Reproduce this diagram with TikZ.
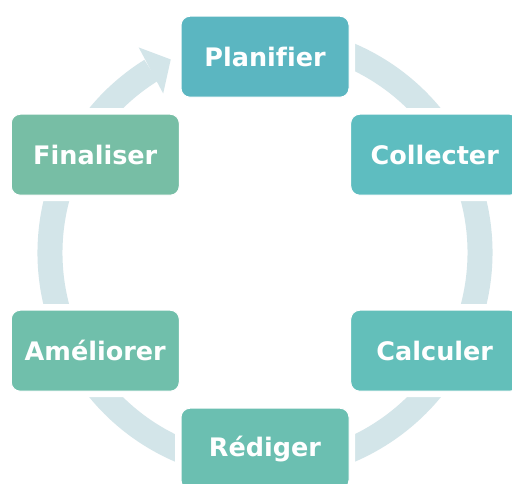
\documentclass[tikz,border=0pt]{standalone}
\usepackage{fontspec}
\setmainfont{DejaVu Sans}[Ligatures=NoCommon]
\definecolor{ringc}{HTML}{D3E5E9}
\definecolor{cA}{HTML}{5BB6C1}
\definecolor{cB}{HTML}{5EBDC0}
\definecolor{cC}{HTML}{63BFBA}
\definecolor{cD}{HTML}{6BBFB1}
\definecolor{cE}{HTML}{70BFAB}
\definecolor{cF}{HTML}{77BEA5}
\tikzset{
  box/.style={rectangle, rounded corners=9pt, minimum width=168pt, minimum height=81pt,
    inner sep=0pt, draw=white, line width=1pt, text=white,
    font=\fontsize{25.5}{30}\selectfont\bfseries,
    preaction={draw=white, line width=12pt}},
  ringline/.style={draw=ringc, line width=25pt, line cap=butt},
  ringhead/.style={fill=ringc}
}
\begin{document}
\begin{tikzpicture}[x=1pt,y=1pt]
\useasboundingbox (0,0) rectangle (512,-483);
\clip (0,0) rectangle (512,-483);
\fill[white] (0,0) rectangle (512,-483);
\coordinate (C) at (265,-252.7);
\draw[ringline] ([shift={(122:215)}]C) arc[start angle=122, end angle=450, radius=215];
\coordinate (hA) at ([shift={(121.6:241)}]C);
\coordinate (hB) at ([shift={(122.6:189)}]C);
\coordinate (hT) at ([shift={(116:215)}]C);
\fill[ringhead] (hA) -- (hT) -- (hB) -- cycle;
\node[box, fill=cA] (plan) at ([shift={(90:196)}]C) {Planifier};
\node[box, fill=cB] (coll) at ([shift={(30:196)}]C) {Collecter};
\node[box, fill=cC] (calc) at ([shift={(-30:196)}]C) {Calculer};
\node[box, fill=cD] (redi) at ([shift={(-90:196)}]C) {Rédiger};
\node[box, fill=cE] (amel) at ([shift={(-150:196)}]C) {Améliorer};
\node[box, fill=cF] (fina) at ([shift={(150:196)}]C) {Finaliser};
\end{tikzpicture}
\end{document}
